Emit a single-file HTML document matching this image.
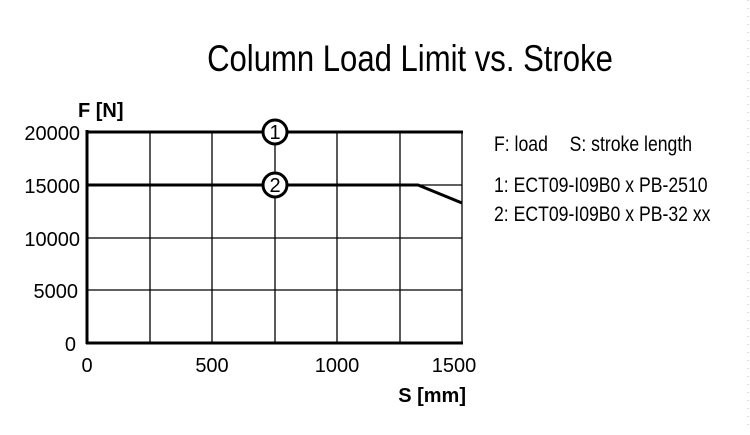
<!DOCTYPE html>
<html><head><style>
html,body{margin:0;padding:0;background:#fff;}
</style></head><body>
<svg width="750" height="430" xmlns="http://www.w3.org/2000/svg" font-family="Liberation Sans, Arial, sans-serif">
<rect width="750" height="430" fill="#fff"/>
<line x1="748" y1="0" x2="748" y2="430" stroke="#9cc3d8" stroke-width="1" stroke-dasharray="1,7"/>
<text x="410" y="71" font-size="37" text-anchor="middle" transform="translate(410,0) scale(0.84,1) translate(-410,0)">Column Load Limit vs. Stroke</text>
<g stroke="#000" stroke-width="1.3">
<line x1="150" y1="132" x2="150" y2="343"/>
<line x1="212" y1="132" x2="212" y2="343"/>
<line x1="275" y1="132" x2="275" y2="343"/>
<line x1="337" y1="132" x2="337" y2="343"/>
<line x1="400" y1="132" x2="400" y2="343"/>
<line x1="462" y1="132" x2="462" y2="343"/>
<line x1="87" y1="238" x2="462" y2="238"/>
<line x1="87" y1="290" x2="462" y2="290"/>
<line x1="87" y1="185" x2="462" y2="185"/>
</g>
<g stroke="#000" stroke-width="3" fill="none">
<line x1="87" y1="130" x2="87" y2="344"/>
<line x1="86" y1="343" x2="463" y2="343"/>
<line x1="87" y1="132" x2="463" y2="132"/>
<polyline points="87,185 418,185 462,203"/>
</g>
<g fill="#fff" stroke="#000" stroke-width="3">
<circle cx="275" cy="132" r="12"/>
<circle cx="275" cy="185" r="12"/>
</g>
<g font-size="20" text-anchor="middle">
<text x="275" y="139">1</text>
<text x="275" y="192">2</text>
</g>
<g font-size="20" text-anchor="end">
<text x="80" y="140">20000</text>
<text x="80" y="193">15000</text>
<text x="80" y="246">10000</text>
<text x="78" y="298">5000</text>
<text x="76" y="351">0</text>
</g>
<g font-size="20" text-anchor="middle">
<text x="87" y="372">0</text>
<text x="212" y="372">500</text>
<text x="337" y="372">1000</text>
<text x="454" y="372">1500</text>
</g>
<text x="78" y="117" font-size="20" font-weight="bold">F [N]</text>
<text x="466" y="402" font-size="20" font-weight="bold" text-anchor="end">S [mm]</text>
<g font-size="21" transform="translate(494,0) scale(0.84,1) translate(-494,0)">
<text x="494" y="151">F: load</text>
<text x="584" y="151">S: stroke length</text>
<text x="494" y="192">1: ECT09-I09B0 x PB-2510</text>
<text x="494" y="221">2: ECT09-I09B0 x PB-32 xx</text>
</g>
</svg>
</body></html>
